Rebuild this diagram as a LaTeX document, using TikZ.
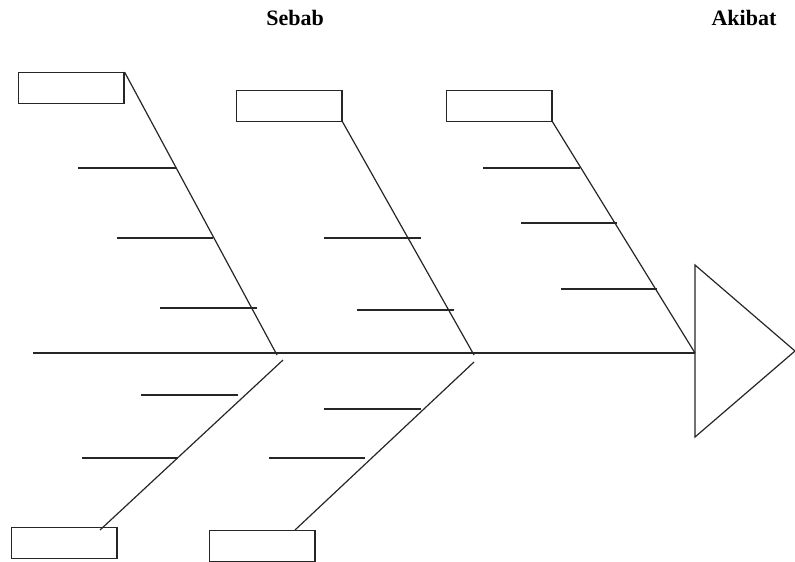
\documentclass[tikz,border=0pt]{standalone}
\usepackage{fontspec}
\setmainfont{Liberation Serif}
\begin{document}
\begin{tikzpicture}[x=0.75pt,y=-0.75pt,
  line/.style={draw=black!85,line width=0.9pt},
  catbox/.style={draw=black!85,line width=0.9pt,minimum width=79pt,minimum height=23pt,inner sep=0pt,anchor=north west},
  title/.style={font=\bfseries\fontsize{16.5}{18}\selectfont,inner sep=0pt}]
\useasboundingbox (0,0) rectangle (795,561);
% titles
\node[title] (sebab) at (295,18) {Sebab};
\node[title] (akibat) at (744,18) {Akibat};
% boxes
\node[catbox] (b1) at (18,72) {};
\node[catbox] (b2) at (236,90) {};
\node[catbox] (b3) at (446,90) {};
\node[catbox] (b4) at (11,527) {};
\node[catbox] (b5) at (209,530) {};
% spine and head
\coordinate (s0) at (33,353);
\coordinate (j1) at (277,355);
\coordinate (j2) at (474,355);
\coordinate (head) at (695,353);
\coordinate (t1) at (695,265);
\coordinate (t2) at (795,351);
\coordinate (t3) at (695,437);
\draw[line] (s0) -- (head);
\draw[line,line join=miter] (t1) -- (t2) -- (t3) -- cycle;
% upper bones
\draw[line] (b1.north east) -- (j1);
\draw[line] (b2.south east) -- (j2);
\draw[line] (b3.south east) -- (head);
% lower bones
\coordinate (lb1) at (283,360);
\coordinate (lb2) at (474,362);
\coordinate (e1) at (100,530);
\coordinate (e2) at (295,530);
\draw[line] (lb1) -- (e1);
\draw[line] (lb2) -- (e2);
% ribs bone 1
\coordinate (r1a) at (78,168); \coordinate (r1b) at (176,168);
\coordinate (r2a) at (117,238); \coordinate (r2b) at (213,238);
\coordinate (r3a) at (160,308); \coordinate (r3b) at (257,308);
\draw[line] (r1a) -- (r1b);
\draw[line] (r2a) -- (r2b);
\draw[line] (r3a) -- (r3b);
% ribs bone 2
\coordinate (r4a) at (324,238); \coordinate (r4b) at (421,238);
\coordinate (r5a) at (357,310); \coordinate (r5b) at (454,310);
\draw[line] (r4a) -- (r4b);
\draw[line] (r5a) -- (r5b);
% ribs bone 3
\coordinate (r6a) at (483,168); \coordinate (r6b) at (580,168);
\coordinate (r7a) at (521,223); \coordinate (r7b) at (617,223);
\coordinate (r8a) at (561,289); \coordinate (r8b) at (657,289);
\draw[line] (r6a) -- (r6b);
\draw[line] (r7a) -- (r7b);
\draw[line] (r8a) -- (r8b);
% ribs lower bone 1
\coordinate (r9a) at (141,395); \coordinate (r9b) at (238,395);
\coordinate (r10a) at (82,458); \coordinate (r10b) at (178,458);
\draw[line] (r9a) -- (r9b);
\draw[line] (r10a) -- (r10b);
% ribs lower bone 2
\coordinate (r11a) at (324,409); \coordinate (r11b) at (421,409);
\coordinate (r12a) at (269,458); \coordinate (r12b) at (365,458);
\draw[line] (r11a) -- (r11b);
\draw[line] (r12a) -- (r12b);
\end{tikzpicture}
\end{document}
